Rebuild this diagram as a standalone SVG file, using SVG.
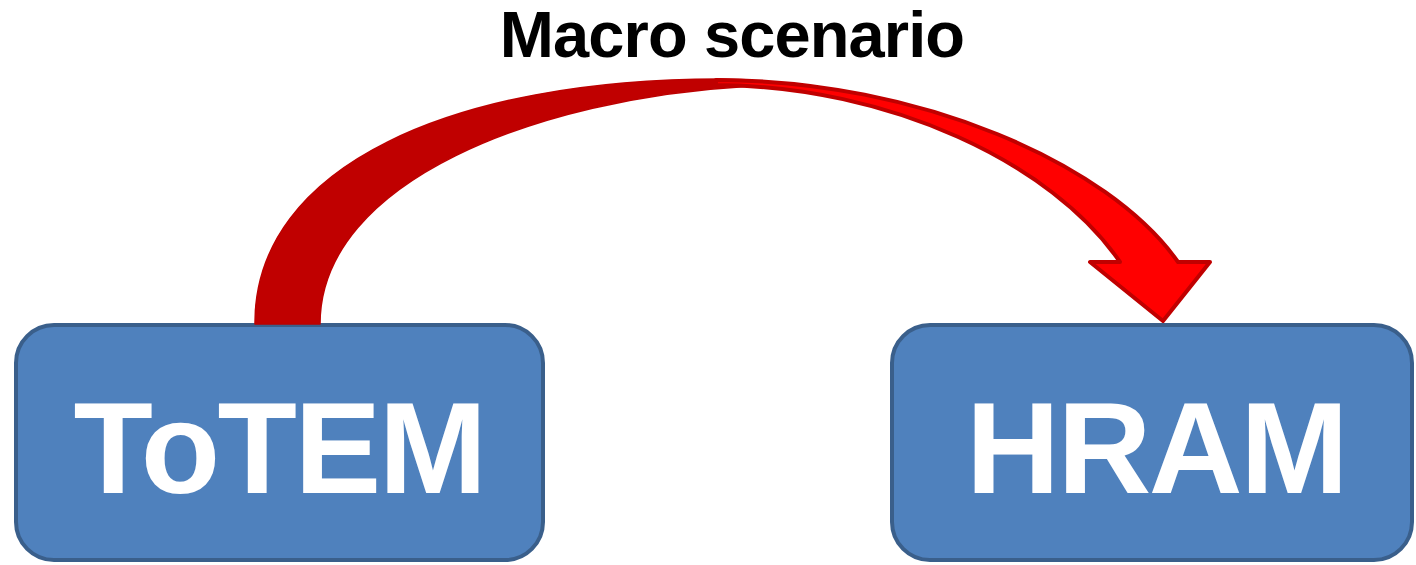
<svg xmlns="http://www.w3.org/2000/svg" width="1416" height="565" viewBox="0 0 1416 565">
  <style>
    .box { fill: #4F81BD; stroke: #3A5F8B; stroke-width: 4; }
    .box-label { font-family: "Liberation Sans", Arial, sans-serif; font-weight: bold; font-size: 130px; letter-spacing: -2.5px; fill: #FFFFFF; text-anchor: middle; }
    .title { font-family: "Liberation Sans", Arial, sans-serif; font-weight: bold; font-size: 65px; letter-spacing: -0.9px; fill: #000000; text-anchor: middle; }
    .arrow-back { fill: #C00000; stroke: #BC0000; stroke-width: 1.5; stroke-linejoin: round; }
    .arrow-front { fill: #FF0000; stroke: #C00000; stroke-width: 4; stroke-linejoin: round; }
  </style>

  <rect width="1416" height="565" fill="#FFFFFF"/>

  <!-- source model -->
  <g id="node-totem">
    <rect class="box" x="16" y="325" width="527" height="235" rx="38" ry="38"/>
    <text class="box-label" x="279" y="493">ToTEM</text>
  </g>

  <!-- target model -->
  <g id="node-hram">
    <rect class="box" x="892" y="325" width="520" height="235" rx="38" ry="38"/>
    <text class="box-label" x="1156" y="493">HRAM</text>
  </g>

  <!-- curved block arrow: rising back half, descending front half with head -->
  <g id="connectors">
    <path class="arrow-back" d="M255,324 C254,165 455,79 720,79 L746,79.8 L746,86.4 C540,98 320,180 320,324 Z"/>
    <path class="arrow-front" d="M716,80 C920,80 1109,164 1178,262 L1210,262 L1163,321 L1090,262 L1120,262 C1052,163 890,86 716,85 Z"/>
    <text class="title" x="732" y="57">Macro scenario</text>
  </g>
</svg>
